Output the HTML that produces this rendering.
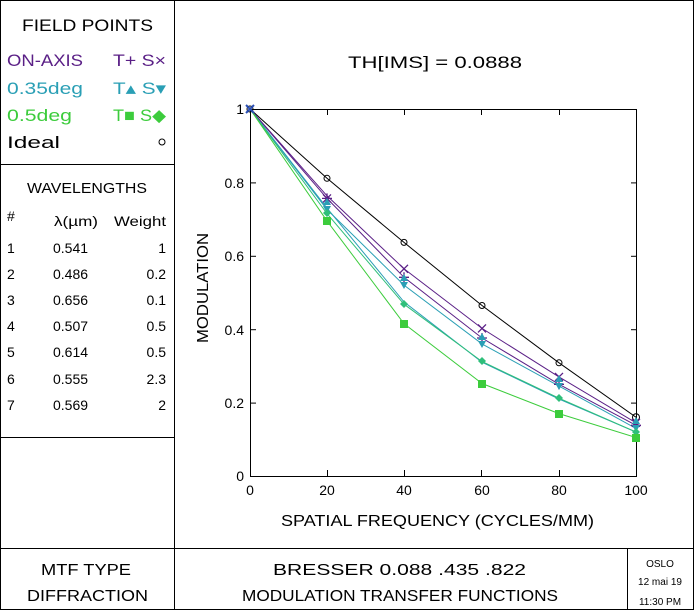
<!DOCTYPE html>
<html><head><meta charset="utf-8"><style>
html,body{margin:0;padding:0;background:#fff;}
svg{display:block;font-family:"Liberation Sans",sans-serif;}
</style></head><body>
<svg width="695" height="611" viewBox="0 0 695 611" xmlns="http://www.w3.org/2000/svg">
<rect x="0.5" y="0.5" width="693" height="609" fill="#fff" stroke="#000"/>
<line x1="174.5" y1="0" x2="174.5" y2="610" stroke="#000"/>
<line x1="0" y1="164.5" x2="174" y2="164.5" stroke="#000"/>
<line x1="0" y1="437.5" x2="174" y2="437.5" stroke="#000"/>
<line x1="0" y1="548.5" x2="694" y2="548.5" stroke="#000"/>
<line x1="627.5" y1="548" x2="627.5" y2="610" stroke="#000"/>

<g font-size="17">
<text x="22" y="31" textLength="131" lengthAdjust="spacingAndGlyphs">FIELD POINTS</text>
<text x="7" y="66" fill="#5a1f86" textLength="76" lengthAdjust="spacingAndGlyphs">ON-AXIS</text><text x="113" y="66" fill="#5a1f86" textLength="53" lengthAdjust="spacingAndGlyphs">T+ S×</text>
<text x="7" y="94" fill="#2a9fb5" textLength="76" lengthAdjust="spacingAndGlyphs">0.35deg</text><text x="113" y="94" fill="#2a9fb5" textLength="53" lengthAdjust="spacingAndGlyphs">T▴ S▾</text>
<text x="7" y="121" fill="#3ccc3c" textLength="65" lengthAdjust="spacingAndGlyphs">0.5deg</text><text x="113" y="121" fill="#3ccc3c" textLength="53" lengthAdjust="spacingAndGlyphs">T■ S◆</text>
<text x="7" y="148" textLength="53" lengthAdjust="spacingAndGlyphs">Ideal</text>
</g>
<circle cx="162" cy="142" r="3" fill="none" stroke="#000"/>
<text x="27" y="193" font-size="15" textLength="120" lengthAdjust="spacingAndGlyphs">WAVELENGTHS</text>
<g font-size="14">
<text x="7" y="221">#</text><text x="54" y="226" textLength="44" lengthAdjust="spacingAndGlyphs">λ(µm)</text><text x="114" y="226" textLength="52" lengthAdjust="spacingAndGlyphs">Weight</text>
<text x="7" y="253">1</text><text x="53" y="253">0.541</text><text x="166" y="253" text-anchor="end">1</text>
<text x="7" y="279">2</text><text x="53" y="279">0.486</text><text x="166" y="279" text-anchor="end">0.2</text>
<text x="7" y="305">3</text><text x="53" y="305">0.656</text><text x="166" y="305" text-anchor="end">0.1</text>
<text x="7" y="331">4</text><text x="53" y="331">0.507</text><text x="166" y="331" text-anchor="end">0.5</text>
<text x="7" y="357">5</text><text x="53" y="357">0.614</text><text x="166" y="357" text-anchor="end">0.5</text>
<text x="7" y="384">6</text><text x="53" y="384">0.555</text><text x="166" y="384" text-anchor="end">2.3</text>
<text x="7" y="410">7</text><text x="53" y="410">0.569</text><text x="166" y="410" text-anchor="end">2</text>
</g>

<g font-size="16">
<text x="41" y="575" textLength="90" lengthAdjust="spacingAndGlyphs">MTF TYPE</text>
<text x="27" y="601" textLength="121" lengthAdjust="spacingAndGlyphs">DIFFRACTION</text>
<text x="273" y="575" textLength="253" lengthAdjust="spacingAndGlyphs">BRESSER 0.088 .435 .822</text>
<text x="242" y="601" textLength="316" lengthAdjust="spacingAndGlyphs">MODULATION TRANSFER FUNCTIONS</text>
</g>
<g font-size="10" text-anchor="middle">
<text x="660" y="567">OSLO</text>
<text x="660" y="585">12 mai 19</text>
<text x="660" y="605">11:30 PM</text>
</g>

<text x="348" y="68" font-size="17" textLength="174" lengthAdjust="spacingAndGlyphs">TH[IMS] = 0.0888</text>
<text x="281" y="526" font-size="16" textLength="313" lengthAdjust="spacingAndGlyphs">SPATIAL FREQUENCY (CYCLES/MM)</text>
<text transform="translate(208,288) rotate(-90)" text-anchor="middle" font-size="16" textLength="110" lengthAdjust="spacingAndGlyphs">MODULATION</text>

<rect x="250.5" y="109.5" width="386" height="367" fill="none" stroke="#000"/>
<g stroke="#000">
<line x1="250" y1="182.9" x2="256" y2="182.9"/><line x1="250" y1="256.3" x2="256" y2="256.3"/><line x1="250" y1="329.7" x2="256" y2="329.7"/><line x1="250" y1="403.1" x2="256" y2="403.1"/>
<line x1="631" y1="182.9" x2="636" y2="182.9"/><line x1="631" y1="256.3" x2="636" y2="256.3"/><line x1="631" y1="329.7" x2="636" y2="329.7"/><line x1="631" y1="403.1" x2="636" y2="403.1"/>
<line x1="327.5" y1="476" x2="327.5" y2="470"/><line x1="404.5" y1="476" x2="404.5" y2="470"/><line x1="481.5" y1="476" x2="481.5" y2="470"/><line x1="559.5" y1="476" x2="559.5" y2="470"/>
<line x1="327.5" y1="109" x2="327.5" y2="115"/><line x1="404.5" y1="109" x2="404.5" y2="115"/><line x1="481.5" y1="109" x2="481.5" y2="115"/><line x1="559.5" y1="109" x2="559.5" y2="115"/>
</g>
<g font-size="14" text-anchor="end">
<text x="244" y="114">1</text><text x="244" y="188">0.8</text><text x="244" y="261">0.6</text><text x="244" y="335">0.4</text><text x="244" y="408">0.2</text><text x="244" y="481">0</text>
</g>
<g font-size="14" text-anchor="middle">
<text x="250" y="495">0</text><text x="327" y="495">20</text><text x="404" y="495">40</text><text x="482" y="495">60</text><text x="559" y="495">80</text><text x="636" y="495">100</text>
</g>

<g fill="none" stroke-width="1">
<polyline stroke="#000" points="250,109 327,178.3 404,242.4 482,305.5 559,362.8 636,417.2"/>
<polyline stroke="#5a1f86" points="250,109 327,195.8 404,268.8 482,328.4 559,376.9 636,422.8"/>
<polyline stroke="#5a1f86" points="250,109 327,198.4 404,277.3 482,338 559,384.3 636,425.3"/>
<polyline stroke="#2a9fb5" points="250,109 327,209.5 404,285.1 482,343.9 559,386.1 636,428.4"/>
<polyline stroke="#2a9fb5" points="250,109 327,208.1 404,301.9 482,362.2 559,399 636,432"/>
<polyline stroke="#2fbf7a" points="250,109 327,213.6 404,304.2 482,361.5 559,398.2 636,432"/>
<polyline stroke="#3ccc3c" points="250,109 327,220.9 404,323.7 482,383.5 559,413.6 636,437.5"/>
</g>
<circle cx="250" cy="109" r="3" fill="none" stroke="#000"/>
<g fill="none" stroke="#000"><circle cx="327" cy="178.3" r="3"/><circle cx="404" cy="242.4" r="3"/><circle cx="482" cy="305.5" r="3"/><circle cx="559" cy="362.8" r="3"/><circle cx="636" cy="417.2" r="3.5"/></g>
<g stroke="#5a1f86" stroke-width="1.3">
<path d="M323,194.4l8,8M331,194.4l-8,8M400,264.8l8,8M408,264.8l-8,8M478,324.4l8,8M486,324.4l-8,8M555,372.9l8,8M563,372.9l-8,8M632,418.8l8,8M640,418.8l-8,8"/>
<path d="M327,193.4v10M322,198.4h10M404,272.3v10M399,277.3h10M482,333v10M477,338h10M559,379.3v10M554,384.3h10M636,420.3v10M631,425.3h10"/>
</g>
<g fill="#2a9fb5">
<path d="M323,205l4,-7 4,7zM400,281l4,-7 4,7zM478,340l4,-7 4,7zM555,382l4,-7 4,7zM632,424l4,-7 4,7z"/>
<path d="M323,206l4,7 4,-7zM400,282l4,7 4,-7zM478,341l4,7 4,-7zM555,383l4,7 4,-7zM632,425l4,7 4,-7z"/>
</g>
<g fill="#2fbf7a">
<path d="M327,209l4,4 -4,4 -4,-4zM404,300l4,4 -4,4 -4,-4zM482,357l4,4 -4,4 -4,-4zM559,394l4,4 -4,4 -4,-4zM636,428l4,4 -4,4 -4,-4z"/>
</g>
<g fill="#3ccc3c">
<rect x="323" y="217" width="8" height="8"/><rect x="400" y="320" width="8" height="8"/><rect x="478" y="380" width="8" height="8"/><rect x="555" y="410" width="8" height="8"/><rect x="632" y="434" width="8" height="8"/>
</g>
<path d="M246,105l8,8M254,105l-8,8" stroke="#2a4fb5" stroke-width="2"/>
</svg>
</body></html>
